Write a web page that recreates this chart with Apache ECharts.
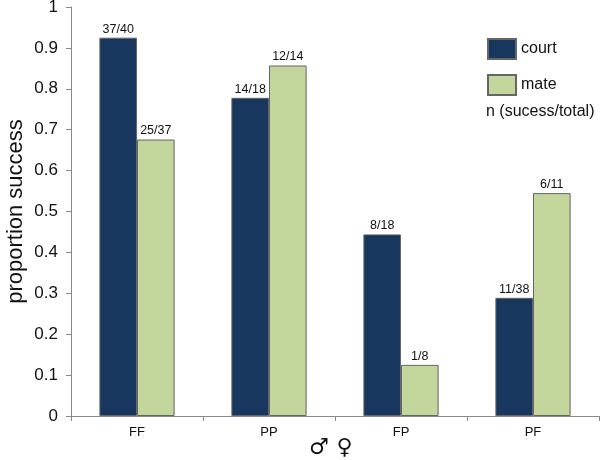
<!DOCTYPE html>
<html><head><meta charset="utf-8">
<script src="https://cdn.jsdelivr.net/npm/echarts@6/dist/echarts.min.js"></script>
<style>html,body{margin:0;padding:0;background:#fff}#c{width:600px;height:460px}</style>
</head><body><div id="c"></div>
<script>
var categories = ['FF', 'PP', 'FP', 'PF'];
var courtValues = [0.925, 0.778, 0.444, 0.289];
var mateValues = [0.676, 0.857, 0.125, 0.545];
var courtLabels = ['37/40', '14/18', '8/18', '11/38'];
var mateLabels = ['25/37', '12/14', '1/8', '6/11'];
var yTicks = { min: 0, max: 1, interval: 0.1 };

var chart = echarts.init(document.getElementById('c'));
var font = 'Arial, "Liberation Sans", sans-serif';
chart.setOption({
  animation: false,
  textStyle: { fontFamily: font },
  grid: { left: 71, right: 1, top: 7, bottom: 44, containLabel: false, outerBoundsMode: 'none' },
  legend: {
    orient: 'vertical', left: 487, top: 38, padding: 0, itemWidth: 28, itemHeight: 20, itemGap: 14,
    icon: 'rect',
    textStyle: { fontSize: 16, color: '#111', fontFamily: font },
    data: ['court', 'mate']
  },
  graphic: [
    { type: 'text', left: 486, top: 104, style: { text: 'n (sucess/total)', fontSize: 16, fill: '#111', fontFamily: font } },
    { type: 'text', left: 309, top: 437, style: { text: '♂ ♀', fontSize: 22, fontWeight: 'bold', fill: '#111', fontFamily: '"DejaVu Sans", sans-serif' } }
  ],
  xAxis: {
    type: 'category', data: categories,
    axisLine: { lineStyle: { color: '#888', width: 1 } },
    axisTick: { show: true, length: 5, lineStyle: { color: '#888' } },
    axisLabel: { fontSize: 13, color: '#111', margin: 10 },
    splitLine: { show: false }
  },
  yAxis: {
    type: 'value', min: yTicks.min, max: yTicks.max, interval: yTicks.interval,
    name: 'proportion success', nameLocation: 'middle', nameGap: 44, nameMoveOverlap: false,
    nameTextStyle: { fontSize: 22, color: '#111' },
    axisLine: { show: true, lineStyle: { color: '#888' } },
    axisTick: { show: true, length: 5, lineStyle: { color: '#888' } },
    axisLabel: { fontSize: 17, color: '#111', margin: 13 },
    splitLine: { show: false }
  },
  series: [
    {
      name: 'court', type: 'bar', data: courtValues, barGap: '0%', barCategoryGap: '43%',
      itemStyle: { color: '#17375e', borderColor: '#666', borderWidth: 1 },
      label: { show: true, position: 'top', distance: 2, fontSize: 12.5, color: '#111',
        formatter: function (p) { return courtLabels[p.dataIndex]; } }
    },
    {
      name: 'mate', type: 'bar', data: mateValues,
      itemStyle: { color: '#c3d69b', borderColor: '#666', borderWidth: 1 },
      label: { show: true, position: 'top', distance: 2, fontSize: 12.5, color: '#111',
        formatter: function (p) { return mateLabels[p.dataIndex]; } }
    }
  ]
});
</script></body></html>
